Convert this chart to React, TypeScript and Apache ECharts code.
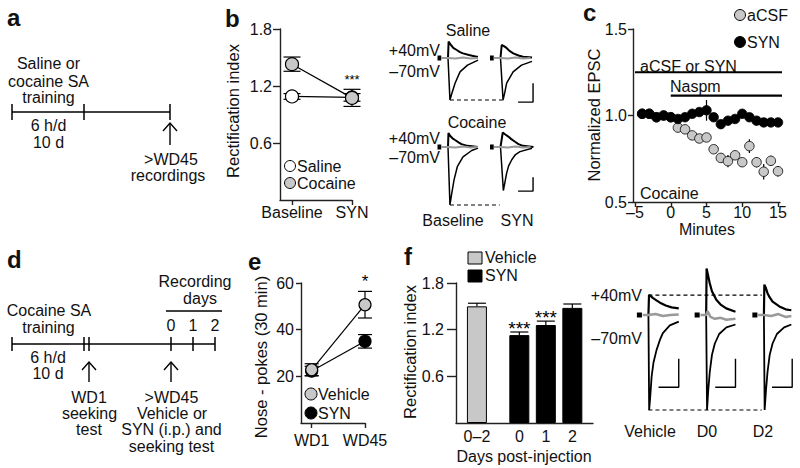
import React, { useEffect, useRef } from 'react';
import * as echarts from 'echarts';

const FONT = '"Liberation Sans", Arial, Helvetica, sans-serif';
const TXT = '#111';
const GRAY = '#c8c8c8';

// ---------- Panel b : rectification index ----------
const bConditions = ['Baseline', 'SYN'];
const bSaline = [1.09, 1.08];
const bSalineSem = [0.03, 0.04];
const bCocaine = [1.43, 1.075];
const bCocaineSem = [0.075, 0.09];
const bSig = ['', '***'];
const bTicks = [0.6, 1.2, 1.8];

// ---------- Panel c : normalized EPSC over time ----------
const cMinutes = [-4, -3, -2, -1, 0, 1, 2, 3, 4, 5, 6, 7, 8, 9, 10, 11, 12, 13, 14, 15];
const cACSF = [1.01, 1.01, 0.99, 1.0, 0.99, 0.93, 0.92, 0.885, 0.867, 0.873, 0.805, 0.755, 0.736, 0.77, 0.73, 0.823, 0.73, 0.675, 0.738, 0.678];
const cACSFSem = [0.015, 0.015, 0.015, 0.015, 0.015, 0.015, 0.015, 0.015, 0.02, 0.02, 0.02, 0.025, 0.035, 0.02, 0.025, 0.04, 0.03, 0.045, 0.03, 0.03];
const cSYN = [1.01, 1.01, 0.99, 1.0, 0.99, 0.98, 0.99, 1.01, 1.02, 1.03, 0.99, 0.95, 0.97, 0.98, 1.01, 0.99, 0.97, 0.96, 0.96, 0.96];
const cSYNSem = [0.015, 0.015, 0.015, 0.015, 0.015, 0.015, 0.02, 0.02, 0.02, 0.06, 0.02, 0.02, 0.02, 0.02, 0.02, 0.02, 0.02, 0.02, 0.02, 0.02];
const cXTicks = [-5, 0, 5, 10, 15];
const cYTicks = [0.5, 1.0, 1.5];
const cBathStart = [-5, 0]; // aCSF or SYN, Naspm (minutes)
const cBathEnd = 15.6;

// ---------- Panel e : nose pokes ----------
const eDays = ['WD1', 'WD45'];
const eVehicle = [22.8, 50.7];
const eVehicleSem = [2.6, 5.7];
const eSYN = [22.3, 35.0];
const eSYNSem = [2.0, 2.9];
const eSig = ['', '*'];
const eTicks = [20, 40, 60];

// ---------- Panel f : rectification index by day ----------
const fGroups = ['0–2', '0', '1', '2'];
const fVehicle = [1.5];
const fVehicleSem = [0.04];
const fSYN = [1.13, 1.26, 1.48];
const fSYNSem = [0.04, 0.05, 0.05];
const fSig = ['***', '***', ''];
const fTicks = [0.6, 1.2, 1.8];

// ---------- Example EPSC traces (ms from stimulus, normalized current) ----------
const salBase40 = [[0, 0], [0.4, 0.39], [1.5, 0.33], [3.5, 0.24], [5.8, 0.19], [8, 0.14], [10, 0.11], [14, 0.07], [19, 0.03], [20, 0.03]];
const salBase70 = [[0, 0], [1.3, -1], [2.5, -0.85], [4.7, -0.6], [8, -0.33], [13, -0.17], [19, -0.07], [20, -0.05]];
const salSyn40 = [[0, 0], [0.8, 0.31], [2, 0.29], [4, 0.24], [6, 0.17], [8.5, 0.11], [12, 0.06], [15, 0.03], [21, 0.01]];
const salSyn70 = [[0, 0], [1.7, -1], [2.8, -0.83], [4.1, -0.6], [8.4, -0.33], [14, -0.17], [21, -0.08]];
const cocBase40 = [[0, 0], [0.3, 0.24], [1.5, 0.19], [3, 0.15], [4.7, 0.12], [7, 0.08], [9, 0.05], [13, 0.02], [20, 0]];
const cocBase70 = [[0, 0], [1.3, -1], [2.5, -0.8], [4, -0.57], [6.2, -0.34], [10, -0.17], [15.8, -0.06], [20, -0.02]];
const cocSyn40 = [[0, 0], [1.5, 0.25], [3, 0.22], [5.2, 0.18], [7, 0.14], [9.7, 0.09], [12, 0.05], [15, 0.02], [22, 0]];
const cocSyn70 = [[0, 0], [1.9, -0.75], [3, -0.6], [4.1, -0.45], [5.5, -0.32], [7.5, -0.22], [10, -0.13], [13, -0.08], [21, -0.02]];
const flatTrace = [[-4.5, 0], [0, 0], [5, -0.01], [10, 0.01], [15, -0.01], [20, 0]];

const vehTr40 = [[0, 0], [0.4, 0.21], [1.5, 0.2], [3, 0.18], [5, 0.16], [8, 0.13], [12, 0.1], [16, 0.08], [21, 0.07]];
const vehTr70 = [[0, 0], [0.5, -1], [1.3, -0.85], [2.2, -0.65], [3.5, -0.5], [5.6, -0.37], [8, -0.26], [10, -0.19], [14.8, -0.11], [21, -0.07]];
const vehTrGray = [[-4, 0], [0, 0], [5, 0.01], [10, -0.01], [15, 0], [21, 0.005]];
const d0Tr40 = [[0, 0], [0.3, 0.49], [1, 0.44], [2.4, 0.34], [4, 0.25], [7, 0.16], [10, 0.11], [13.9, 0.07], [20.3, 0.035]];
const d0Tr70 = [[0, 0], [0.6, -1], [1.4, -0.8], [2.5, -0.6], [4, -0.42], [6, -0.3], [9, -0.2], [14, -0.13], [20.3, -0.1]];
const d0TrGray = [[-4, 0], [0, 0], [1, 0.04], [3, -0.02], [6, -0.04], [10, -0.03], [14, -0.05], [20.3, -0.04]];
const d2Tr40 = [[0, 0], [0.3, 0.32], [1.2, 0.29], [2.5, 0.23], [3.8, 0.19], [6, 0.14], [10.7, 0.09], [15, 0.06], [19, 0.05]];
const d2Tr70 = [[0, 0], [0.5, -1], [1.4, -0.8], [2.5, -0.6], [4, -0.42], [6, -0.3], [9, -0.2], [14, -0.13], [19, -0.1]];
const d2TrGray = [[-4, 0], [0, 0], [5, -0.01], [10, 0.01], [15, -0.02], [19, -0.01]];

// layout constants (ms positions of stimuli inside trace panels)
const bStim = [8, 43];
const fStim = [10, 50, 90];
const fPos = [0, 1.6, 2.6, 3.6];

const axisLineStyle = { show: true, onZero: false, lineStyle: { color: '#222', width: 1.4 } };
const labelFont = { fontSize: 16, fontFamily: FONT, color: TXT };

function valAxis(gi: number, min: number, max: number, ticks: number[], tickLen: number, margin: number, fmt: any, showTick = true) {
  return {
    gridIndex: gi, type: 'value', min, max,
    splitLine: { show: false },
    axisLine: axisLineStyle,
    axisTick: { show: showTick, customValues: ticks, length: tickLen, lineStyle: { color: '#222', width: 1.4 } },
    axisLabel: { show: true, customValues: ticks, margin, formatter: fmt, ...labelFont },
  };
}
function hiddenAxis(gi: number, min: number, max: number) {
  return { gridIndex: gi, type: 'value', min, max, show: false };
}

function errSeries(gi: number, data: number[][], cap: number, opts: any = {}) {
  return {
    type: 'custom', xAxisIndex: gi, yAxisIndex: gi, z: opts.z ?? 1, silent: true, clip: false,
    data, encode: { x: 0, y: [1, 2] },
    renderItem: (params: any, api: any) => {
      const x = api.value(0), lo = api.value(1), hi = api.value(2);
      const pt = api.coord([x, hi]);
      const pb = api.coord([x, lo]);
      const st = { stroke: '#000', lineWidth: 1.2 };
      const ch: any[] = [
        { type: 'line', shape: { x1: pt[0], y1: pt[1], x2: pb[0], y2: pb[1] }, style: st },
      ];
      if (cap > 0) {
        ch.push({ type: 'line', shape: { x1: pt[0] - cap, y1: pt[1], x2: pt[0] + cap, y2: pt[1] }, style: st });
        if (opts.lower) ch.push({ type: 'line', shape: { x1: pb[0] - cap, y1: pb[1], x2: pb[0] + cap, y2: pb[1] }, style: st });
      }
      const s = opts.stars ? opts.stars[params.dataIndex] : '';
      if (s) {
        ch.push({
          type: 'text', x: pt[0], y: pt[1] - opts.starGap,
          style: { text: s, fontSize: opts.starSize, fontFamily: FONT, fill: '#000', textAlign: 'center', textVerticalAlign: 'middle', align: 'center', verticalAlign: 'middle' },
        });
      }
      return { type: 'group', children: ch };
    },
  };
}

function pointLine(gi: number, name: string, vals: number[], fill: string, size: number) {
  return {
    type: 'line', name, xAxisIndex: gi, yAxisIndex: gi, z: 2,
    data: vals.map((v, i) => [i, v]),
    symbol: 'circle', symbolSize: size, showSymbol: true,
    itemStyle: { color: fill, borderColor: '#000', borderWidth: 1.2 },
    lineStyle: { color: '#000', width: 1.2 },
  };
}

function trace(gi: number, data: number[][], stim: number, color: string, width: number, z = 3) {
  return {
    type: 'line', xAxisIndex: gi, yAxisIndex: gi, silent: true, z, clip: false,
    data: data.map(([t, v]) => [t + stim, v]),
    symbol: 'none', lineStyle: { color, width },
  };
}
function seg(gi: number, pts: number[][], width: number, dashed = false) {
  return {
    type: 'line', xAxisIndex: gi, yAxisIndex: gi, silent: true, z: 3, clip: false,
    data: pts, symbol: 'none',
    lineStyle: { color: '#000', width, type: dashed ? [4, 3] : 'solid' },
  };
}

function txt(text: string, x: number, y: number, align = 'center', extra: any = {}) {
  return {
    type: 'text', x, y, silent: true, rotation: extra.rotation || 0,
    style: {
      text, fill: TXT, fontSize: extra.fontSize || 16, fontFamily: FONT, fontWeight: extra.fontWeight || 'normal',
      textAlign: align, align, textVerticalAlign: 'middle', verticalAlign: 'middle',
    },
  };
}
function gline(x1: number, y1: number, x2: number, y2: number, w = 1.5) {
  return { type: 'line', silent: true, shape: { x1, y1, x2, y2 }, style: { stroke: '#000', lineWidth: w } };
}
function arrow(x: number, top: number, bottom: number) {
  return [
    gline(x, top, x, bottom, 1.4),
    { type: 'polyline', silent: true, shape: { points: [[x - 7, top + 8], [x, top], [x + 7, top + 8]] }, style: { stroke: '#000', lineWidth: 1.4, fill: null } },
  ];
}
function dot(cx: number, cy: number, r: number, fill: string) {
  return { type: 'circle', silent: true, shape: { cx, cy, r }, style: { fill, stroke: '#000', lineWidth: 1 } };
}

function buildOption() {
  const series: any[] = [];
  // b
  series.push(errSeries(0, bSaline.map((v, i) => [i, v - bSalineSem[i], v + bSalineSem[i]]), 8.5, { lower: true }));
  series.push(errSeries(0, bCocaine.map((v, i) => [i, v - bCocaineSem[i], v + bCocaineSem[i]]), 8.5, { lower: true, stars: bSig, starGap: 9.6, starSize: 13 }));
  series.push(pointLine(0, 'Saline', bSaline, '#fff', 13));
  series.push(pointLine(0, 'Cocaine', bCocaine, GRAY, 13));
  // c
  series.push(errSeries(1, cACSF.map((v, i) => [cMinutes[i], v - cACSFSem[i], v + cACSFSem[i]]), 0));
  series.push(errSeries(1, cSYN.map((v, i) => [cMinutes[i], v - cSYNSem[i], v + cSYNSem[i]]), 0));
  series.push({
    type: 'scatter', name: 'aCSF', xAxisIndex: 1, yAxisIndex: 1, z: 2,
    data: cACSF.map((v, i) => [cMinutes[i], v]), symbol: 'circle', symbolSize: 9.5,
    itemStyle: { color: GRAY, borderColor: '#000', borderWidth: 0.8, opacity: 1 },
  });
  series.push({
    type: 'scatter', name: 'SYN', xAxisIndex: 1, yAxisIndex: 1, z: 2,
    data: cSYN.map((v, i) => [cMinutes[i], v]), symbol: 'circle', symbolSize: 9.5,
    itemStyle: { color: '#000', borderColor: '#000', borderWidth: 0.8, opacity: 1 },
  });
  series.push(seg(1, [[cBathStart[0], 1.25], [cBathEnd, 1.25]], 2.2));
  series.push(seg(1, [[cBathStart[1], 1.115], [cBathEnd, 1.115]], 2.2));
  // e
  series.push(errSeries(2, eSYN.map((v, i) => [i, v - eSYNSem[i], v + eSYNSem[i]]), 7, { lower: true }));
  series.push(errSeries(2, eVehicle.map((v, i) => [i, v - eVehicleSem[i], v + eVehicleSem[i]]), 7, { lower: true, stars: eSig, starGap: 9.8, starSize: 17 }));
  series.push(pointLine(2, 'SYN', eSYN, '#000', 12));
  series.push(pointLine(2, 'Vehicle', eVehicle, GRAY, 12));
  // f
  series.push({
    type: 'bar', name: 'Vehicle', xAxisIndex: 3, yAxisIndex: 3, barWidth: 20, barGap: '-100%', z: 2,
    data: fVehicle.map((v, i) => [fPos[i], v]),
    itemStyle: { color: GRAY, borderColor: '#000', borderWidth: 1 },
  });
  series.push({
    type: 'bar', name: 'SYN', xAxisIndex: 3, yAxisIndex: 3, barWidth: 20, barGap: '-100%', z: 2,
    data: fSYN.map((v, i) => [fPos[i + 1], v]),
    itemStyle: { color: '#000', borderColor: '#000', borderWidth: 1 },
  });
  series.push(errSeries(3, fVehicle.map((v, i) => [fPos[i], v, v + fVehicleSem[i]]), 9, { z: 3 }));
  series.push(errSeries(3, fSYN.map((v, i) => [fPos[i + 1], v, v + fSYNSem[i]]), 9, { z: 3, stars: fSig, starGap: 4, starSize: 19 }));

  // b traces: saline (grid 4), cocaine (grid 5)
  const bRows = [
    { gi: 4, base40: salBase40, base70: salBase70, syn40: salSyn40, syn70: salSyn70, bar: [[bStim[1] + 11.7, -1.05], [bStim[1] + 21.7, -1.05], [bStim[1] + 21.7, -0.6]], dash: [bStim[0] + 1.3, bStim[1] + 1.7] },
    { gi: 5, base40: cocBase40, base70: cocBase70, syn40: cocSyn40, syn70: cocSyn70, bar: [[bStim[1] + 11.7, -0.76], [bStim[1] + 21.7, -0.76], [bStim[1] + 21.7, -0.52]], dash: [bStim[0] + 1.3, bStim[1] - 0.5] },
  ];
  bRows.forEach((r) => {
    series.push(trace(r.gi, r.base70, bStim[0], '#000', 1.5));
    series.push(trace(r.gi, r.base40, bStim[0], '#000', 2));
    series.push(trace(r.gi, r.syn70, bStim[1], '#000', 1.5));
    series.push(trace(r.gi, r.syn40, bStim[1], '#000', 2));
    series.push(trace(r.gi, flatTrace, bStim[0], '#999', 2, 4));
    series.push(trace(r.gi, flatTrace, bStim[1], '#999', 2, 4));
    series.push(seg(r.gi, [[bStim[0] - 7, 0], [bStim[0] - 4.5, 0]], 5));
    series.push(seg(r.gi, [[bStim[1] - 7, 0], [bStim[1] - 4.5, 0]], 5));
    series.push(seg(r.gi, r.bar, 1.4));
    series.push(seg(r.gi, [[r.dash[0], -1], [r.dash[1], -1]], 1.2, true));
  });

  // f traces (grid 6)
  const fTr = [
    [vehTr40, vehTr70, vehTrGray, 21],
    [d0Tr40, d0Tr70, d0TrGray, 20.3],
    [d2Tr40, d2Tr70, d2TrGray, 19.6],
  ] as any[];
  fTr.forEach((t, i) => {
    const s = fStim[i];
    series.push(trace(6, t[1], s, '#000', 1.8));
    series.push(trace(6, t[0], s, '#000', 2.2));
    series.push(trace(6, t[2], s, '#999', 2.5, 4));
    series.push(seg(6, [[s - 8, 0], [s - 4.5, 0]], 5));
    const e = s + t[3];
    series.push(seg(6, [[e - 14, -0.76], [e, -0.76], [e, -0.46]], 1.4));
  });
  series.push(seg(6, [[fStim[0], 0.21], [fStim[2] - 1.5, 0.21]], 1.2, true));
  series.push(seg(6, [[fStim[0], -1], [fStim[2] - 1.5, -1]], 1.2, true));

  const graphics: any[] = [
    // panel letters
    txt('a', 7, 17.5, 'left', { fontSize: 24, fontWeight: 'bold' }),
    txt('b', 225, 18.5, 'left', { fontSize: 24, fontWeight: 'bold' }),
    txt('c', 583, 12, 'left', { fontSize: 24, fontWeight: 'bold' }),
    txt('d', 7, 259, 'left', { fontSize: 24, fontWeight: 'bold' }),
    txt('e', 248, 261.5, 'left', { fontSize: 24, fontWeight: 'bold' }),
    txt('f', 404, 256.5, 'left', { fontSize: 24, fontWeight: 'bold' }),

    // panel a timeline
    gline(12, 112, 170, 112),
    gline(12, 104, 12, 120), gline(84, 104, 84, 120), gline(170, 104, 170, 120),
    ...arrow(170, 123, 145),
    txt('Saline or', 48.5, 63.5), txt('cocaine SA', 48.5, 81), txt('training', 48.5, 97.5),
    txt('6 h/d', 48.5, 125), txt('10 d', 48.5, 142),
    txt('>WD45', 171, 159), txt('recordings', 168, 175.5),

    // panel b
    txt('Rectification index', 233, 111, 'center', { rotation: Math.PI / 2, fontSize: 16.5 }),
    dot(290, 166, 5.5, '#fff'), txt('Saline', 297, 166, 'left'),
    dot(290, 183, 5.5, GRAY), txt('Cocaine', 297, 183, 'left'),
    txt('Saline', 468, 30), txt('+40mV', 440, 50.5, 'right'), txt('–70mV', 440, 71, 'right'),
    txt('Cocaine', 477, 122.5), txt('+40mV', 440, 138.5, 'right'), txt('–70mV', 440, 157.5, 'right'),
    txt('Baseline', 453, 220), txt('SYN', 517, 220),

    // panel c
    txt('Normalized EPSC', 594, 115, 'center', { rotation: Math.PI / 2, fontSize: 16.5 }),
    txt('Minutes', 707, 229),
    dot(740, 15, 5.5, GRAY), txt('aCSF', 747, 15, 'left'),
    dot(740, 42, 5.5, '#000'), txt('SYN', 747, 42, 'left'),
    txt('aCSF or SYN', 640, 66, 'left'),
    txt('Naspm', 670, 86.5, 'left'),
    txt('Cocaine', 640, 193.5, 'left'),

    // panel d timeline
    gline(12, 344, 215, 344),
    gline(12, 337, 12, 351), gline(84, 337, 84, 351), gline(89, 337, 89, 351),
    gline(171, 337, 171, 351), gline(193, 337, 193, 351), gline(215, 337, 215, 351),
    ...arrow(89, 362, 382), ...arrow(171, 362, 382),
    gline(166, 311, 222, 311),
    txt('Recording', 195, 281), txt('days', 200, 298.5),
    txt('0', 171, 325), txt('1', 193, 325), txt('2', 215, 325),
    txt('Cocaine SA', 49, 310.5), txt('training', 48.5, 327.5),
    txt('6 h/d', 48, 357), txt('10 d', 48, 373),
    txt('WD1', 89, 397), txt('seeking', 89.5, 413), txt('test', 89, 429.5),
    txt('>WD45', 171.5, 397), txt('Vehicle or', 172, 413), txt('SYN (i.p.) and', 171.5, 429.5), txt('seeking test', 171.5, 446),

    // panel e
    txt('Nose - pokes (30 min)', 261, 357, 'center', { rotation: Math.PI / 2, fontSize: 16.5 }),
    dot(311, 394, 6, GRAY), txt('Vehicle', 318, 394, 'left'),
    dot(311, 413, 6, '#000'), txt('SYN', 318, 413, 'left'),

    // panel f
    txt('Rectification index', 410, 352, 'center', { rotation: Math.PI / 2, fontSize: 16.5 }),
    txt('Days post-injection', 524, 456),
    { type: 'rect', silent: true, shape: { x: 468, y: 252, width: 14, height: 12 }, style: { fill: GRAY, stroke: '#000', lineWidth: 1 } },
    txt('Vehicle', 485, 257.5, 'left'),
    { type: 'rect', silent: true, shape: { x: 468, y: 270, width: 14, height: 12 }, style: { fill: '#000', stroke: '#000', lineWidth: 1 } },
    txt('SYN', 485, 275.5, 'left'),
    txt('+40mV', 642, 295, 'right'), txt('–70mV', 642, 338.5, 'right'),
    txt('Vehicle', 650, 431), txt('D0', 707, 431), txt('D2', 763, 431),
  ];

  return {
    animation: false,
    backgroundColor: '#fff',
    grid: [
      { left: 280, top: 29, width: 72, height: 171 },
      { left: 633, top: 29, width: 147, height: 173 },
      { left: 301, top: 283, width: 64, height: 140 },
      { left: 456, top: 283, width: 137, height: 140 },
      { left: 436, top: 37, width: 105, height: 71.4 },
      { left: 436, top: 118, width: 105, height: 98.6 },
      { left: 634, top: 258, width: 166.75, height: 161.5 },
    ],
    xAxis: [
      valAxis(0, -0.2, 1, [0, 1], 5, 4, (v: number) => bConditions[Math.round(v)]),
      valAxis(1, -5.28, 15.28, cXTicks, 5, 2, (v: number) => (v < 0 ? '–' + Math.abs(v) : String(v))),
      valAxis(2, -0.2, 1, [0, 1], 5, 9, (v: number) => eDays[Math.round(v)]),
      valAxis(3, -0.79, 4.38, fPos, 5, 5, (v: number) => {
        let best = 0;
        fPos.forEach((p, i) => { if (Math.abs(p - v) < Math.abs(fPos[best] - v)) best = i; });
        return fGroups[best];
      }, false),
      hiddenAxis(4, 0, 70),
      hiddenAxis(5, 0, 70),
      hiddenAxis(6, 0, 115),
    ],
    yAxis: [
      valAxis(0, 0, 1.8, bTicks, 7, 8, (v: number) => v.toFixed(1)),
      valAxis(1, 0.5, 1.5, cYTicks, 5, 6, (v: number) => v.toFixed(1)),
      valAxis(2, 0, 60, eTicks, 5, 7, (v: number) => String(v)),
      valAxis(3, 0, 1.8, fTicks, 9, 12, (v: number) => v.toFixed(1)),
      hiddenAxis(4, -1.2, 0.5),
      hiddenAxis(5, -1.2, 0.5),
      hiddenAxis(6, -1.1, 0.6),
    ],
    series,
    graphic: { elements: graphics },
  };
}

export default function App() {
  const ref = useRef<HTMLDivElement>(null);
  useEffect(() => {
    const chart = echarts.init(ref.current as HTMLDivElement, undefined, { renderer: 'svg' });
    chart.setOption(buildOption() as any);
    return () => chart.dispose();
  }, []);
  return (
    <div
      ref={ref}
      style={{ position: 'fixed', left: 0, top: 0, width: 800, height: 468, background: '#fff' }}
    />
  );
}
